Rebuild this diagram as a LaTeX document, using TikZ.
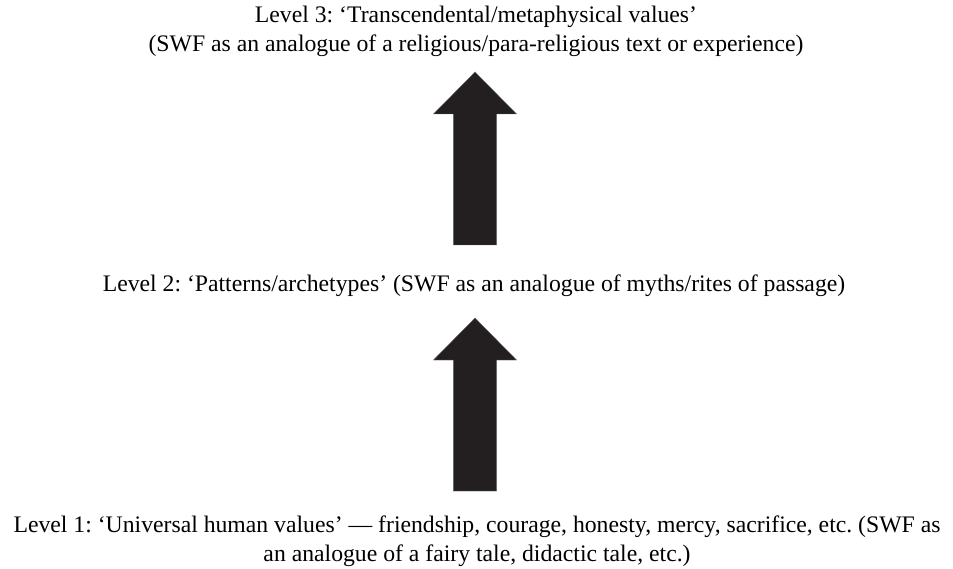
\documentclass[tikz,border=0pt]{standalone}
\usepackage{fontspec}
\setmainfont{Liberation Serif}
\usetikzlibrary{positioning}
\definecolor{inkblack}{HTML}{231F20}
\tikzset{level/.style={align=center,font=\fontsize{23.7}{29}\selectfont\frenchspacing,inner sep=0pt,anchor=base}}
\tikzset{arrowfill/.style={fill=inkblack,draw=black!60,line width=0.4pt}}
\tikzset{uparrow/.pic={
  \filldraw[arrowfill] (-21.7,0) -- (-21.7,-131) -- (-41.5,-131) -- (0,-173)
    -- (41.5,-131) -- (21.7,-131) -- (21.7,0) -- cycle;}}

\begin{document}
\begin{tikzpicture}[x=1pt,y=-1pt]
            \useasboundingbox (0,0) rectangle (953,569);
            % base anchor sits on the last line
            \node [level] (lthree) at (476,52) {Level 3: ‘Transcendental/metaphysical values’\\(SWF as an analogue of a religious/para-religious text or experience)};
            \node [level] (ltwo) at (474,292) {Level 2: ‘Patterns/archetypes’ (SWF as an analogue of myths/rites of passage)};
            \node [level] (lone) at (477,561) {Level 1: ‘Universal human values’ — friendship, courage, honesty, mercy, sacrifice, etc. (SWF as\\an analogue of a fairy tale, didactic tale, etc.)};
            \coordinate (aone) at (475,245);
            \coordinate (atwo) at (475,491);
            \pic at (aone) {uparrow};
            \pic at (atwo) {uparrow};
        \end{tikzpicture}
\end{document}
